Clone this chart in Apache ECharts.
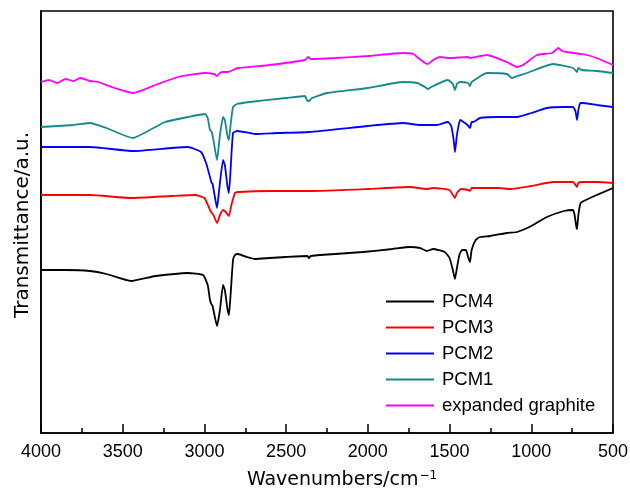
<!DOCTYPE html>
<html><head><meta charset="utf-8">
<script src="https://cdn.jsdelivr.net/npm/echarts@6/dist/echarts.min.js"></script>
<style>html,body{margin:0;padding:0;background:#fff}#c{width:630px;height:488px}</style>
</head><body><div id="c"></div>
<script>
// [wavenumber (cm^-1), transmittance (a.u., offset)]
const pcm4 = [[4000,163],[3850,163],[3700,162],[3600,159],[3449,152],[3300,157],[3101,160],[3009,158],[2980,148],[2966,133],[2958,129],[2950,127],[2935,115],[2923,107],[2905,123],[2886,148],[2875,143],[2860,125],[2850,118],[2840,138],[2825,173],[2813,178],[2795,179],[2740,176],[2690,174],[2600,175],[2500,176],[2370,177],[2360,175],[2350,177],[2200,179],[2030,181],[1850,184],[1742,186],[1681,185],[1640,182],[1600,184],[1530,181],[1500,175],[1480,163],[1467,154],[1455,165],[1440,178],[1424,183],[1400,183],[1385,175],[1375,171],[1365,183],[1340,193],[1314,196],[1250,197],[1150,200],[1087,201],[1000,207],[904,216],[800,222],[745,223],[735,218],[725,207],[720,204],[712,218],[700,229],[690,231],[600,238],[500,245]];
const pcm3 = [[4000,238],[3700,238],[3449,235],[3200,237],[3058,238],[3000,235],[2966,223],[2955,220],[2945,218],[2923,210],[2905,218],[2886,223],[2870,221],[2850,217],[2835,228],[2813,240],[2795,241],[2600,242],[2360,242],[2000,244],[1742,246],[1640,244],[1600,245],[1500,243],[1480,238],[1467,235],[1455,240],[1430,244],[1385,243],[1375,242],[1365,245],[1200,245],[1130,244],[1000,247],[867,251],[745,251],[725,247],[720,246],[712,250],[690,251],[600,251],[500,250]];
const pcm2 = [[4000,286],[3700,286],[3437,282],[3200,285],[3101,286],[3021,281],[2990,270],[2966,256],[2958,251],[2950,249],[2935,235],[2923,225],[2910,243],[2886,273],[2875,268],[2860,248],[2850,240],[2840,263],[2825,300],[2800,302],[2721,300],[2690,299],[2550,300],[2360,301],[2000,307],[1785,310],[1681,308],[1577,308],[1510,311],[1490,307],[1475,293],[1467,281],[1455,298],[1436,313],[1424,312],[1390,308],[1375,305],[1365,311],[1357,311],[1314,315],[1200,316],[1087,316],[1000,320],[904,325],[800,326],[745,326],[730,322],[720,313],[712,323],[700,330],[690,330],[600,328],[500,326]];
const pcm1 = [[4000,306],[3800,308],[3700,310],[3600,305],[3437,295],[3300,306],[3241,311],[3100,316],[2996,319],[2980,315],[2966,303],[2955,301],[2945,293],[2923,273],[2905,298],[2886,316],[2875,313],[2860,298],[2850,293],[2840,308],[2825,326],[2800,329],[2721,331],[2500,335],[2385,337],[2370,332],[2360,332],[2342,335],[2250,340],[2000,345],[1785,351],[1699,350],[1650,346],[1632,344],[1600,347],[1510,353],[1480,349],[1467,343],[1455,349],[1436,351],[1387,350],[1375,347],[1365,351],[1271,360],[1149,359],[1118,355],[1087,357],[1026,360],[867,369],[745,365],[725,362],[720,361],[712,365],[690,363],[600,362],[500,360]];
const eg = [[4000,351],[3950,353],[3900,350],[3850,354],[3800,352],[3760,355],[3700,352],[3651,351],[3550,345],[3437,340],[3300,348],[3162,356],[3000,360],[2940,359],[2923,357],[2905,360],[2886,361],[2856,361],[2795,365],[2600,368],[2385,373],[2366,376],[2350,374],[2336,374],[2200,375],[2000,377],[1785,380],[1720,379],[1699,376],[1650,370],[1632,369],[1600,373],[1559,376],[1500,375],[1387,376],[1375,375],[1271,378],[1150,371],[1087,366],[1050,368],[965,378],[873,380],[850,383],[836,385],[810,382],[781,381],[700,379],[659,378],[600,375],[500,368]];
const seriesNames = ['PCM4','PCM3','PCM2','PCM1','expanded graphite'];
const seriesData = [pcm4, pcm3, pcm2, pcm1, eg];
const colors = ['#000000','#ff0000','#0000ff','#138a8a','#ff00ff'];
const xTicks = [500, 4000, 500]; // min, max, interval

const chart = echarts.init(document.getElementById('c'), null, {renderer:'canvas'});
const font = 'Liberation Sans, Arial, Helvetica, sans-serif';
const tfont = 'DejaVu Sans, Liberation Sans, sans-serif';
chart.setOption({
  animation:false,
  grid:{left:41, right:17, top:11, bottom:55, containLabel:false, outerBoundsMode:'none', show:true, borderColor:'#000', borderWidth:1.6},
  legend:{
    orient:'vertical', left:386, top:292, padding:0, itemWidth:48, itemHeight:14, itemGap:7,
    icon:'path://M0,6 L48,6 L48,8 L0,8 Z',
    textStyle:{fontFamily:font, fontSize:18.5, lineHeight:16, color:'#000', padding:[0,0,0,3]},
    data: seriesNames
  },
  xAxis:{
    type:'value', inverse:true, min:xTicks[0], max:xTicks[1], interval:xTicks[2],
    name:'Wavenumbers/cm{s|\u22121}', nameLocation:'middle', nameGap:37,
    nameTextStyle:{fontFamily:tfont, fontSize:19, color:'#000', padding:[0,0,0,30],
      rich:{s:{fontFamily:tfont, fontSize:12, color:'#000', verticalAlign:'top', padding:[0,0,9,1]}}},
    axisLine:{show:true, lineStyle:{color:'#000', width:1.6}},
    axisTick:{show:true, inside:true, length:9, lineStyle:{color:'#000', width:1.5}},
    minorTick:{show:true, splitNumber:2, length:5, lineStyle:{color:'#000', width:1.5}},
    axisLabel:{fontFamily:font, fontSize:18, color:'#000', margin:10, formatter:v=>String(v)},
    splitLine:{show:false}
  },
  yAxis:{
    type:'value', min:0, max:422,
    name:'Transmittance/a.u.', nameLocation:'middle', nameGap:8, nameRotate:90,
    nameTextStyle:{fontFamily:tfont, fontSize:20, color:'#000', padding:[0,6,0,0]},
    axisLine:{show:true, lineStyle:{color:'#000', width:1.6}},
    axisTick:{show:false}, axisLabel:{show:false}, splitLine:{show:false}
  },
  series: seriesNames.map((n,i)=>({
    name:n, type:'line', data:seriesData[i], showSymbol:false, symbol:'none',
    smooth:0.15, lineStyle:{color:colors[i], width:1.8}, itemStyle:{color:colors[i]}
  }))
});
</script></body></html>
